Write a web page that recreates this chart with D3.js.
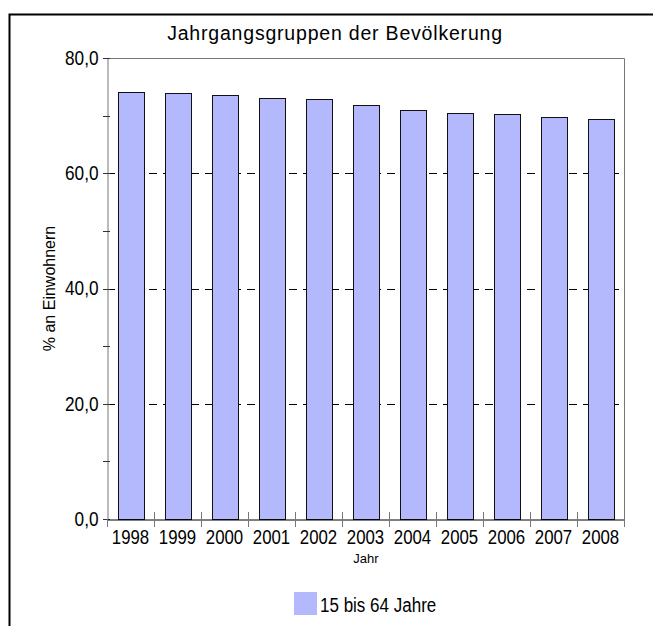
<!DOCTYPE html>
<html>
<head>
<meta charset="utf-8">
<script src="https://cdn.jsdelivr.net/npm/d3@7"></script>
<style>
  body { margin: 0; background: #fff; }
  text { font-family: "Liberation Sans", Arial, sans-serif; }
</style>
</head>
<body>
<div id="chart"></div>
<script>
var years = ["1998","1999","2000","2001","2002","2003","2004","2005","2006","2007","2008"];
var values = [74.1, 74.0, 73.6, 73.0, 72.9, 71.8, 71.0, 70.4, 70.3, 69.8, 69.5];
var majorTicks = [0, 20, 40, 60, 80];
var minorTicks = [10, 30, 50, 70];
var gridTicks = [20, 40, 60];
var seriesName = "15 bis 64 Jahre";

var wi = 653;
var he = 626;
var pLeft = 107, pRight = 624, pTop = 58, pBottom = 519;

// squeeze a text horizontally to look like a narrow face
function narrow(sel, k) {
  sel.each(function() {
    var w = this.getComputedTextLength();
    d3.select(this)
      .attr("textLength", w * k)
      .attr("lengthAdjust", "spacingAndGlyphs");
  });
}

var svg = d3.select("#chart")
  .append("svg")
  .attr("width", wi)
  .attr("height", he);

// outer frame (runs off the page at right and bottom)
svg.append("rect")
  .attr("x", 9.5).attr("y", 14.5)
  .attr("width", wi + 20).attr("height", he + 20)
  .attr("fill", "none")
  .attr("stroke", "#000")
  .attr("stroke-width", 2);

var xScale = d3.scaleBand()
  .domain(years)
  .range([pLeft, pRight])
  .paddingInner(0.45)
  .paddingOuter(0.225);

var band = d3.scaleBand().domain(years).range([pLeft, pRight]);

var yScale = d3.scaleLinear()
  .domain([0, 80])
  .range([pBottom, pTop]);

// grid lines
svg.append("g")
  .selectAll("line")
  .data(gridTicks)
  .enter()
  .append("line")
  .attr("x1", pLeft).attr("x2", pRight)
  .attr("y1", function(d) { return Math.round(yScale(d)) + 0.5; })
  .attr("y2", function(d) { return Math.round(yScale(d)) + 0.5; })
  .attr("stroke", "#000")
  .attr("stroke-dasharray", "8,6");

// frame top and right
svg.append("path")
  .attr("d", "M" + pLeft + "," + (pTop + 0.5) + "H" + (pRight + 0.5) + "V" + pBottom)
  .attr("fill", "none")
  .attr("stroke", "#777");

// bars
svg.append("g")
  .selectAll("rect")
  .data(values)
  .enter()
  .append("rect")
  .attr("x", function(d, i) { return Math.round(xScale(years[i])) + 0.5; })
  .attr("y", function(d) { return Math.round(yScale(d)) + 0.5; })
  .attr("width", Math.round(xScale.bandwidth()))
  .attr("height", function(d) { return pBottom - Math.round(yScale(d)); })
  .attr("fill", "#b4b8fc")
  .attr("stroke", "#111");

// y axis
var yAxis = d3.axisLeft(yScale)
  .tickValues(majorTicks)
  .tickSize(0)
  .tickPadding(9)
  .tickFormat(function(d) { return d3.format(".1f")(d).replace(".", ","); });

var gy = svg.append("g")
  .attr("transform", "translate(" + (pLeft + 0.5) + ",0)")
  .call(yAxis)
  .attr("font-family", null);
gy.select(".domain").attr("stroke", "#777");
gy.selectAll("text")
  .attr("font-size", 20)
  .attr("fill", "#000")
  .call(narrow, 0.86);

svg.append("g")
  .selectAll("line")
  .data(majorTicks.concat(minorTicks))
  .enter()
  .append("line")
  .attr("x1", pLeft - 4).attr("x2", pLeft + 3)
  .attr("y1", function(d) { return Math.round(yScale(d)) + 0.5; })
  .attr("y2", function(d) { return Math.round(yScale(d)) + 0.5; })
  .attr("stroke", "#333");

// x axis
var xAxis = d3.axisBottom(xScale)
  .tickSize(0)
  .tickPadding(10);

var gx = svg.append("g")
  .attr("transform", "translate(0," + (pBottom + 0.5) + ")")
  .call(xAxis)
  .attr("font-family", null);
gx.select(".domain").attr("stroke", "#000");
gx.selectAll("text")
  .attr("font-size", 20)
  .attr("fill", "#000")
  .call(narrow, 0.84);

var bounds = years.map(function(y) { return band(y); }).concat([pRight]);
svg.append("g")
  .selectAll("line")
  .data(bounds)
  .enter()
  .append("line")
  .attr("x1", function(d) { return Math.round(d) + 0.5; })
  .attr("x2", function(d) { return Math.round(d) + 0.5; })
  .attr("y1", function(d, i) { return i == 0 ? pBottom : pBottom - 7; })
  .attr("y2", pBottom + 8)
  .attr("stroke", "#777");

// title and labels
svg.append("text")
  .attr("x", 335).attr("y", 40)
  .attr("text-anchor", "middle")
  .attr("font-size", 19.5)
  .attr("letter-spacing", 0.8)
  .text("Jahrgangsgruppen der Bevölkerung");

svg.append("text")
  .attr("transform", "translate(55," + yScale(40) + ") rotate(-90)")
  .attr("text-anchor", "middle")
  .attr("font-size", 16)
  .text("% an Einwohnern");

svg.append("text")
  .attr("x", 366).attr("y", 563)
  .attr("text-anchor", "middle")
  .attr("font-size", 13)
  .text("Jahr");

// legend
var legend = svg.append("g");
legend.append("rect")
  .attr("x", 294).attr("y", 592)
  .attr("width", 23).attr("height", 23)
  .attr("fill", "#b4b8fc");
legend.append("text")
  .attr("x", 320).attr("y", 612)
  .attr("font-size", 20)
  .text(seriesName)
  .call(narrow, 0.85);
</script>
</body>
</html>
